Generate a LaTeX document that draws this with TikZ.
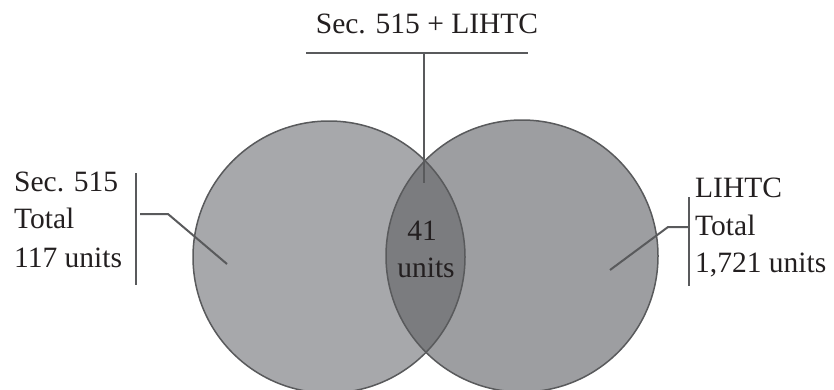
\documentclass[tikz,border=0pt]{standalone}
\usepackage{fontspec}
\setmainfont{Liberation Serif}
\definecolor{txtcol}{HTML}{231F20}
\definecolor{linecol}{HTML}{595A5C}
\definecolor{leftcol}{HTML}{A7A8AB}
\definecolor{rightcol}{HTML}{9D9EA1}
\definecolor{midcol}{HTML}{7B7C7F}
\begin{document}
\begin{tikzpicture}[x=1pt,y=-1pt,
  lbl/.style={font=\fontsize{29.5}{36}\selectfont, text=txtcol, inner sep=0pt, anchor=base west},
  clbl/.style={font=\fontsize{29.5}{36}\selectfont, text=txtcol, inner sep=0pt, anchor=base},
  conn/.style={draw=linecol, line width=2pt},
  venn/.style={circle, minimum size=272pt, inner sep=0pt, outer sep=0pt}]
\useasboundingbox (0,0) rectangle (834,389);
% circles
\node[venn, fill=leftcol] (L) at (329,257) {};
\node[venn, fill=rightcol] (R) at (522,256) {};
\begin{scope}
  \clip (L.center) circle (136pt);
  \fill[fill=midcol] (R.center) circle (136pt);
\end{scope}
\draw[draw=linecol, line width=1.5pt] (L.center) circle (136pt);
\draw[draw=linecol, line width=1.5pt] (R.center) circle (136pt);
% top label
\node[clbl] (top) at (427,33) {Sec. 515 + LIHTC};
\coordinate (tl) at (306,53);
\coordinate (tr) at (528,53);
\coordinate (tm) at (424,53);
\coordinate (tin) at (424,183);
\draw[conn] (tl) -- (tr);
\draw[conn] (tm) -- (tin);
% center label
\node[clbl] (c1) at (422,240) {41};
\node[clbl] (c2) at (426,277) {units};
% left label
\node[lbl] (l1) at (14,191) {Sec. 515};
\node[lbl] (l2) at (14,228) {Total};
\node[lbl] (l3) at (14,267) {117 units};
\coordinate (lbt) at (136,173);
\coordinate (lbb) at (136,285);
\coordinate (lh1) at (140,214);
\coordinate (lh2) at (168,214);
\coordinate (lin) at (227,264);
\draw[conn] (lbt) -- (lbb);
\draw[conn] (lh1) -- (lh2) -- (lin);
% right label
\node[lbl] (r1) at (695,197) {LIHTC};
\node[lbl] (r2) at (695,235) {Total};
\node[lbl] (r3) at (695,272) {1,721 units};
\coordinate (rbt) at (689,197);
\coordinate (rbb) at (689,286);
\coordinate (rh1) at (689,227);
\coordinate (rh2) at (668,227);
\coordinate (rin) at (610,270);
\draw[conn] (rbt) -- (rbb);
\draw[conn] (rh1) -- (rh2) -- (rin);
\end{tikzpicture}
\end{document}
